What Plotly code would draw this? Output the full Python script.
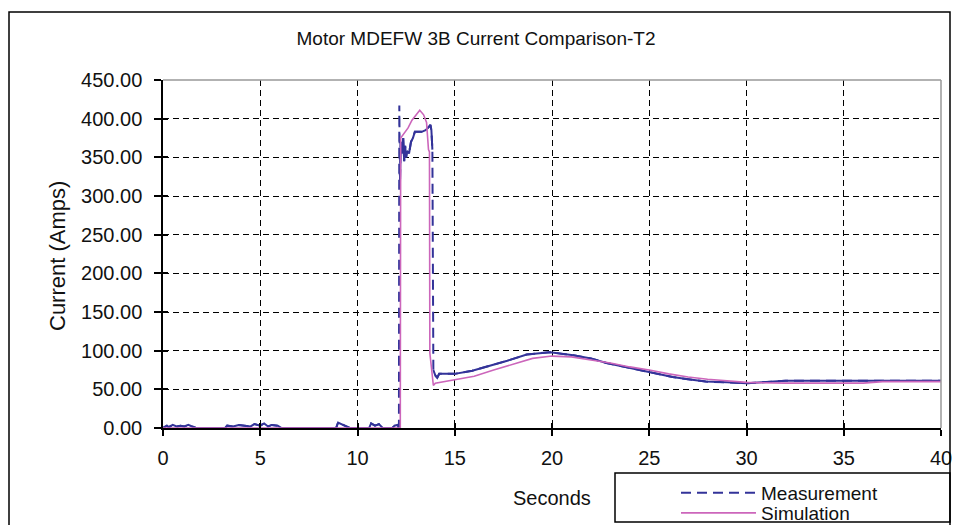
import plotly.graph_objects as go

# ---- data ----
meas_t = [0.0, 0.2, 0.3, 0.5, 0.7, 0.9, 1.1, 1.3, 1.5, 1.7, 3.2, 3.3, 3.6, 3.9, 4.2, 4.5, 4.7,
          5.0, 5.2, 5.4, 5.6, 5.9, 6.1, 8.9, 9.0, 9.2, 9.4, 9.6, 10.6, 10.7, 10.9, 11.1, 11.3,
          11.8, 11.9, 12.05, 12.13, 12.15, 12.18, 12.22, 12.28, 12.35, 12.4, 12.45, 12.5, 12.55,
          12.65, 12.75, 12.85, 12.95, 13.3, 13.5, 13.7, 13.75, 13.8, 13.85, 13.9, 14.0, 14.1,
          14.2, 14.6, 15.0, 15.9, 16.8, 17.7, 18.7, 19.9, 21.1, 22.0, 22.8, 23.7, 24.5, 25.3,
          26.2, 27.0, 27.9, 29.0, 30.0, 30.8, 31.6, 32.0, 35.0, 38.0, 40.0]
meas_i = [0, 3, 1, 4, 2, 3, 2, 4, 2, 0, 0, 3, 2, 4, 3, 2, 5,
          3, 6, 2, 4, 3, 0, 0, 7, 5, 3, 0, 0, 6, 3, 5, 0,
          0, 3, 4, 0, 417, 310, 370, 355, 375, 345, 365, 350, 358,
          355, 370, 375, 383, 383, 385, 390, 392, 385, 360, 75, 68, 65,
          70, 70, 70, 74, 80, 87, 95, 98, 94, 90, 84, 79, 75, 71,
          66, 63, 60, 59, 58, 59, 60, 61, 61, 61, 61]

sim_t = [0.0, 12.2, 12.22, 12.4, 12.6, 12.8, 13.0, 13.2, 13.4, 13.55, 13.65, 13.7, 13.72,
         13.85, 13.9, 14.0, 14.5, 15, 16, 17, 18, 19, 20, 21, 22, 23, 24, 25, 26, 27, 28,
         29, 30, 32, 34, 36, 37, 40]
sim_i = [0, 0, 375, 382, 388, 398, 405, 411, 405, 395, 360, 357, 97,
         62, 55, 58, 60, 62, 67, 75, 83, 90, 93, 92, 88, 84, 79, 75, 70, 66, 63,
         61, 59, 58, 58, 58, 60, 60]

x_ticks = [0, 5, 10, 15, 20, 25, 30, 35, 40]
y_ticks = [0, 50, 100, 150, 200, 250, 300, 350, 400, 450]

NAVY = "#333399"
PINK = "#CC66BB"
TXT = "#111111"

# solid overlay for the short (dense) segments of the measurement
solid_t, solid_i = [], []
for k in range(len(meas_t)):
    if k > 0 and abs(meas_i[k] - meas_i[k - 1]) > 100:
        solid_t.append(None)
        solid_i.append(None)
    solid_t.append(meas_t[k])
    solid_i.append(meas_i[k])

fig = go.Figure()
fig.add_trace(go.Scatter(x=meas_t, y=meas_i, mode="lines", name="Measurement",
                         legend="legend",
                         line=dict(color=NAVY, width=2, dash="10px,6px")))
fig.add_trace(go.Scatter(x=solid_t, y=solid_i, mode="lines", showlegend=False,
                         connectgaps=False, line=dict(color=NAVY, width=2)))
fig.add_trace(go.Scatter(x=sim_t, y=sim_i, mode="lines", name="Simulation",
                         legend="legend2",
                         line=dict(color=PINK, width=1.6)))
# empty trace so the overlay axes (inner half of the crossing ticks) are drawn
fig.add_trace(go.Scatter(x=[], y=[], xaxis="x2", yaxis="y2", showlegend=False,
                         hoverinfo="skip"))

L, R, T, B = 163, 17, 80, 97
W, H = 958, 525
pw, ph = W - L - R, H - T - B

def px(xp):
    return (xp - L) / pw

def py(yp):
    return (H - B - yp) / ph

font = "Liberation Sans, Arial, sans-serif"
legend_common = dict(xanchor="left", yanchor="middle", bgcolor="rgba(0,0,0,0)",
                     borderwidth=0, itemwidth=75, font=dict(size=19, color=TXT))

fig.update_layout(
    width=W, height=H,
    margin=dict(l=L, r=R, t=T, b=B, autoexpand=False),
    paper_bgcolor="white", plot_bgcolor="white",
    font=dict(family=font, size=20, color=TXT),
    title=dict(text="Motor MDEFW 3B Current Comparison-T2", x=px(476), xanchor="center",
               xref="paper", y=1 - 38 / H, yanchor="middle",
               font=dict(size=19, color=TXT)),
    showlegend=True,
    legend=dict(x=px(676), y=py(493), **legend_common),
    legend2=dict(x=px(676), y=py(513), **legend_common),
    xaxis=dict(range=[0, 40], tickvals=x_ticks, ticktext=[str(v) for v in x_ticks],
               showgrid=True, gridcolor="black", griddash="6px,4px", gridwidth=1,
               showline=True, linecolor="black", linewidth=1.5, ticks="outside",
               ticklen=6, tickcolor="black", tickwidth=1.5, zeroline=False,
               ticklabelstandoff=5, tickfont=dict(size=20, color=TXT)),
    yaxis=dict(range=[0, 450], tickvals=y_ticks, ticktext=[f"{v:.2f}" for v in y_ticks],
               showgrid=True, gridcolor="black", griddash="6px,4px", gridwidth=1,
               showline=True, linecolor="black", linewidth=1.5, ticks="outside",
               ticklen=7, tickcolor="black", tickwidth=1.5, zeroline=False,
               ticklabelstandoff=8, tickfont=dict(size=20, color=TXT)),
    xaxis2=dict(range=[0, 40], tickvals=x_ticks, overlaying="x", anchor="y",
                showticklabels=False, showgrid=False, showline=False, zeroline=False,
                ticks="inside", ticklen=5, tickcolor="black", tickwidth=1.5),
    yaxis2=dict(range=[0, 450], tickvals=y_ticks, overlaying="y", anchor="x", side="left",
                showticklabels=False, showgrid=False, showline=False, zeroline=False,
                ticks="inside", ticklen=5, tickcolor="black", tickwidth=1.5),
    shapes=[
        # plot-area top/right border
        dict(type="line", xref="paper", yref="paper", x0=0, x1=1, y0=1, y1=1,
             line=dict(color="#999999", width=1.5)),
        dict(type="line", xref="paper", yref="paper", x0=1, x1=1, y0=0, y1=1,
             line=dict(color="#999999", width=1.5)),
        # outer chart border
        dict(type="rect", xref="paper", yref="paper", x0=px(9), x1=px(950),
             y0=py(540), y1=py(12), line=dict(color="black", width=1.5)),
        # legend box
        dict(type="rect", xref="paper", yref="paper", x0=px(615), x1=px(950),
             y0=py(522), y1=py(473), line=dict(color="black", width=1.5)),
    ],
    annotations=[
        dict(text="Current (Amps)", xref="paper", yref="paper", x=px(57), y=py(256),
             xanchor="center", yanchor="middle",
             textangle=-90, showarrow=False, font=dict(size=22, color=TXT)),
        dict(text="Seconds", xref="paper", yref="paper", x=px(552), y=py(498),
             xanchor="center", yanchor="middle",
             showarrow=False, font=dict(size=20, color=TXT)),
    ],
)

fig.write_html("out.html", config={"displayModeBar": False},
               post_script="document.body.style.margin='0';"
                           "document.body.style.overflow='hidden';")
